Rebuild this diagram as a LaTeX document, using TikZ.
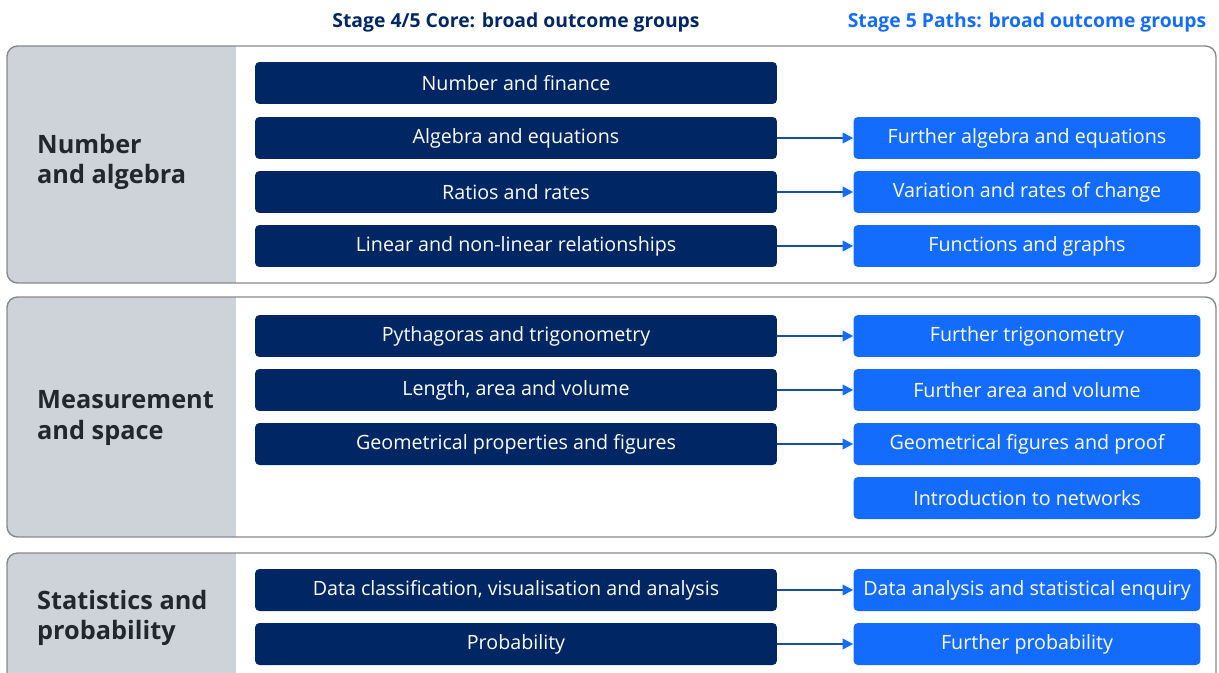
\documentclass[tikz,border=0pt]{standalone}
\usepackage{fontspec}
\setmainfont{Open Sans}
\usetikzlibrary{arrows.meta}
\definecolor{navy}{HTML}{002664}
\definecolor{skyblue}{HTML}{146CFD}
\definecolor{panelgrey}{HTML}{CDD3D8}
\definecolor{edgegrey}{HTML}{85898D}
\definecolor{labeltext}{HTML}{22272B}
\definecolor{linkline}{HTML}{1D4E9E}

\begin{document}
\begin{tikzpicture}[
            x=0.02cm, y=-0.02cm,
            core group/.style={fill=navy, text=white, rounded corners=2.5pt, minimum width=10.44cm, minimum height=0.84cm, inner sep=0pt, font=\fontsize{11.2}{13}\selectfont},
            path group/.style={fill=skyblue, text=white, rounded corners=2.5pt, minimum width=6.94cm, minimum height=0.84cm, inner sep=0pt, font=\fontsize{11.2}{13}\selectfont},
            strand label/.style={anchor=west, align=left, text=labeltext, font=\bfseries\fontsize{14.4}{17.2}\selectfont},
            heading/.style={font=\bfseries\fontsize{11}{13}\selectfont},
            link/.style={draw=linkline, line width=1pt, -{Triangle[length=6pt, width=6pt, color=skyblue]}}
        ]
        \clip (0,0) rectangle (1219,672);

        % Strand panels
        \foreach \top/\bot in {46/283, 297/537, 553/720} {
            \begin{scope}
                \clip[rounded corners=6pt] (7,\top) rectangle (1216,\bot);
                \fill[panelgrey] (7,\top) rectangle (236,\bot);
            \end{scope}
            \draw[edgegrey, line width=0.8pt, rounded corners=6pt] (7,\top) rectangle (1216,\bot);
        }

        % Headings
        \node[heading, text=navy] (core head) at (516,22) {Stage 4/5 Core: broad outcome groups};
        \node[heading, text=skyblue] (paths head) at (1027,22) {Stage 5 Paths: broad outcome groups};

        % Strand labels
        \node[strand label] (na) at (31,162) {Number\\and algebra};
        \node[strand label] (ms) at (31,418) {Measurement\\and space};
        \node[strand label] (sp) at (31,618) {Statistics and\\probability};

        % Core outcome groups
        \foreach \y/\name/\txt in {83/nf/Number and finance, 138/ae/Algebra and equations, 192/rr/Ratios and rates,
                246/lnl/Linear and non-linear relationships, 336/pt/Pythagoras and trigonometry,
                390/lav/{Length, area and volume}, 444/gpf/Geometrical properties and figures,
                590/dcva/{Data classification, visualisation and analysis}, 644/prob/Probability}
            \node[core group] (\name) at (516,\y) {\txt};

        % Paths outcome groups
        \foreach \y/\name/\txt in {138/fae/Further algebra and equations, 192/vrc/Variation and rates of change,
                246/fg/Functions and graphs, 336/ft/Further trigonometry, 390/fav/Further area and volume,
                444/gfp/Geometrical figures and proof, 498/net/Introduction to networks,
                590/dase/Data analysis and statistical enquiry, 644/fp/Further probability}
            \node[path group] (\name) at (1027,\y) {\txt};

        % Core to paths
        \foreach \a/\b in {ae/fae, rr/vrc, lnl/fg, pt/ft, lav/fav, gpf/gfp, dcva/dase, prob/fp}
            \draw[link] (\a) -- (\b);

\end{tikzpicture}
\end{document}
